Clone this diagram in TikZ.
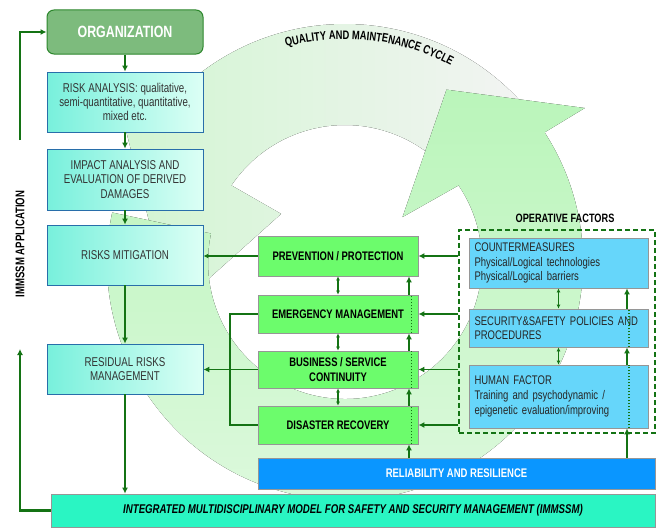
\documentclass[tikz,border=0pt]{standalone}
\usepackage{fontspec}
\setmainfont{Liberation Sans}[FakeStretch=0.76]
\usetikzlibrary{arrows.meta,calc,decorations.text}

\definecolor{dg}{RGB}{20,115,20}
\definecolor{orgfill}{RGB}{125,187,125}
\definecolor{orgline}{RGB}{45,135,45}
\definecolor{cyl}{RGB}{120,240,220}
\definecolor{cyr}{RGB}{220,255,245}
\definecolor{cyline}{RGB}{40,110,170}
\definecolor{gbox}{RGB}{108,252,108}
\definecolor{bbox}{RGB}{102,214,250}
\definecolor{relb}{RGB}{10,150,255}
\definecolor{immf}{RGB}{42,245,195}
\definecolor{boxline}{RGB}{150,150,150}
\definecolor{headA}{RGB}{186,245,186}
\definecolor{tailA}{RGB}{222,249,222}
\definecolor{headB}{RGB}{210,245,210}
\definecolor{tailB}{RGB}{243,244,243}

\begin{document}
\begin{tikzpicture}[x=1pt,y=-1pt,
  cybox/.style={draw=cyline, line width=0.8pt, left color=cyl, right color=cyr, minimum width=156pt, align=center, text=black!80, font=\fontsize{12.8}{14.3}\selectfont, inner sep=2pt},
  gnode/.style={draw=boxline, line width=0.8pt, fill=gbox, minimum width=160pt, align=center, font=\bfseries\fontsize{12.4}{15}\selectfont, inner sep=2pt},
  bnode/.style={draw=boxline, line width=0.8pt, fill=bbox, minimum width=179pt, text width=168pt, align=left, text=black!85, font=\fontsize{12.5}{14.2}\selectfont, inner sep=2pt},
  arr/.style={draw=dg, line width=1.8pt, -{Latex[length=6pt,width=6pt]}},
  thinarr/.style={draw=dg, line width=1.2pt, -{Latex[length=5pt,width=5pt]}},
  darr/.style={draw=dg, line width=1.1pt, {Latex[length=4pt,width=4pt]}-{Latex[length=4pt,width=4pt]}},
  link/.style={draw=dg, line width=1.8pt},
  dotline/.style={draw=dg, line width=1.2pt, dash pattern=on 1.2pt off 1.8pt}
]
\fill[white] (0,0) rectangle (660,527);
\useasboundingbox (0,0) rectangle (660,527);

% background cycle
\coordinate (C) at (345,262);
\fill[left color=headB, right color=tailB]
  ($(C)+(-40:238)$) arc[start angle=-40, end angle=-128, radius=238]
  -- ($(C)+(-147:265)$) -- ($(C)+(-196:180)$) -- ($(C)+(-143:80)$)
  -- ($(C)+(-146:137)$) arc[start angle=-146, end angle=-40, radius=137] -- cycle;
\fill[top color=headA, bottom color=tailA]
  ($(C)+(-168:238)$) arc[start angle=-168, end angle=-393, radius=238]
  -- ($(C)+(-32.7:285)$) -- ($(C)+(-59.5:200)$) -- ($(C)+(-38:73)$)
  -- ($(C)+(-34:137)$) arc[start angle=-34, end angle=192, radius=137] -- cycle;
\path[decorate, decoration={text along path, text align=center,
  text={|\bfseries\fontsize{12.3}{13}\selectfont|QUALITY AND MAINTENANCE CYCLE}}]
  ($(C)+(-117.5:223)$) arc[start angle=-117.5, end angle=-49.5, radius=223];

% left column
\node[draw=orgline, line width=1pt, fill=orgfill, rounded corners=7pt, minimum width=156pt, minimum height=44pt, text=white, font=\bfseries\fontsize{16.3}{18}\selectfont] (org) at (125,32) {ORGANIZATION};
\node[cybox, minimum height=60pt] (ra) at (125,102) {RISK ANALYSIS: qualitative,\\semi-quantitative, quantitative,\\mixed etc.};
\node[cybox, minimum height=61pt] (ia) at (125,179.5) {IMPACT ANALYSIS AND\\EVALUATION OF DERIVED\\DAMAGES};
\node[cybox, minimum height=60pt] (rm) at (125,255) {RISKS MITIGATION};
\node[cybox, minimum height=50pt] (rr) at (125,369) {RESIDUAL RISKS\\MANAGEMENT};

% green column
\node[gnode, minimum height=40pt] (pp) at (338,256) {PREVENTION / PROTECTION};
\node[gnode, minimum height=38pt] (em) at (338,314) {EMERGENCY MANAGEMENT};
\node[gnode, minimum height=37pt] (bc) at (338,369.5) {BUSINESS / SERVICE\\CONTINUITY};
\node[gnode, minimum height=38pt] (dr) at (338,425) {DISASTER RECOVERY};

% operative factors
\node[draw=dg, dash pattern=on 5pt off 3pt, line width=1.4pt, minimum width=196pt, minimum height=203pt] (opf) at (557,331.5) {};
\node[font=\bfseries\fontsize{12.1}{13}\selectfont] (opl) at (565,218) {OPERATIVE FACTORS};
\node[bnode, minimum height=50pt] (cm) at (558.5,263) {COUNTERMEASURES\\Physical/Logical technologies\\Physical/Logical barriers};
\node[bnode, minimum height=38pt] (ss) at (558.5,328) {SECURITY\&SAFETY POLICIES AND\\PROCEDURES};
\node[bnode, minimum height=63pt, font=\fontsize{12.5}{14.6}\selectfont] (hf) at (558.5,396.5) {HUMAN FACTOR\\Training and psychodynamic /\\epigenetic evaluation/improving};

% bottom bars
\node[draw=boxline, line width=0.8pt, fill=relb, minimum width=397pt, minimum height=31pt, text=white, font=\bfseries\fontsize{12.5}{14}\selectfont] (rel) at (456.5,473.5) {RELIABILITY AND RESILIENCE};
\node[draw=boxline, line width=0.8pt, fill=immf, minimum width=604pt, minimum height=33pt, font=\bfseries\itshape\fontsize{12.7}{14}\selectfont] (imm) at (353,510.5) {INTEGRATED MULTIDISCIPLINARY MODEL FOR SAFETY AND SECURITY MANAGEMENT (IMMSSM)};

\node[rotate=90, font=\bfseries\fontsize{12.6}{14}\selectfont] (app) at (20,244) {IMMSSM APPLICATION};

% left chain
\draw[arr] (org.south) -- (ra.north);
\draw[arr] (ra.south) -- (ia.north);
\draw[arr] (ia.south) -- (rm.north);
\draw[arr] (rm.south) -- (rr.north);
\draw[arr] (rr.south) -- (rr.south |- imm.north);

% feedback loop
\coordinate (fbtop) at (20,140);
\coordinate (fbend) at (20,349);
\draw[arr, line width=2.2pt] (imm.west) -| (fbend);
\draw[arr, line width=2.2pt] (fbtop) |- (org.west);

% green boxes to left column
\draw[thinarr] (pp.west) -- (pp.west -| rm.east);
\coordinate (bx) at (230,314);
\draw[link] (em.west) -- (em.west -| bx) -- (dr.west -| bx) -- (dr.west);
\draw[arr] (bc.west) -- (bc.west -| rr.east);

% operative factors to green boxes
\foreach \n in {pp,em,bc,dr} \draw[arr] (\n.east -| opf.west) -- (\n.east);

% double arrows
\draw[darr] (pp.south) -- (em.north);
\draw[darr] (em.south) -- (bc.north);
\draw[darr] (bc.south) -- (dr.north);
\draw[darr] (cm.south) -- (ss.north);
\draw[darr] (ss.south) -- (hf.north);

% reliability upward arrows
\coordinate (vx) at (409,0);
\coordinate (vxd) at (411.5,0);
\draw[arr] (rel.north -| vx) -- (dr.south -| vx);
\draw[arr] (dr.north -| vx) -- (bc.south -| vx);
\draw[arr] (bc.north -| vx) -- (em.south -| vx);
\draw[arr] (em.north -| vx) -- (pp.south -| vx);
\draw[dotline] (dr.south -| vxd) -- (dr.north -| vxd);
\draw[dotline] (bc.south -| vxd) -- (bc.north -| vxd);
\draw[dotline] (em.south -| vxd) -- (em.north -| vxd);

\coordinate (vr) at (627,0);
\coordinate (vrd) at (629,0);
\draw[arr] (rel.north -| vr) -- (hf.south -| vr);
\draw[arr] (hf.north -| vr) -- (ss.south -| vr);
\draw[arr] (ss.north -| vr) -- (cm.south -| vr);
\draw[dotline] (hf.south -| vrd) -- (hf.north -| vrd);
\draw[dotline] (ss.south -| vrd) -- (ss.north -| vrd);
\end{tikzpicture}
\end{document}
